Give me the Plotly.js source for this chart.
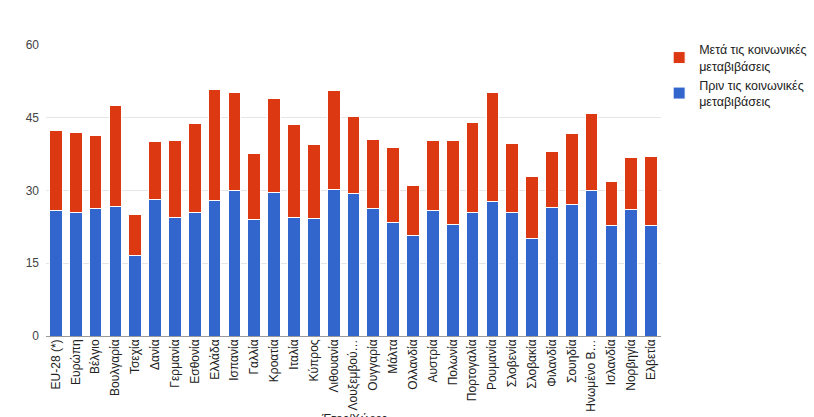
<!DOCTYPE html>
<html>
<head>
<meta charset="utf-8">
<script src="https://cdn.plot.ly/plotly-3.0.1.min.js"></script>
<style>
  body { margin: 0; background: #fff; }
  #chart { width: 814px; height: 417px; }
</style>
</head>
<body>
<div id="chart"></div>
<script>
// countries (full names) and the shortened labels the chart shows
var countries = ['EU-28 (*)', 'Ευρώπη', 'Βέλγιο', 'Βουλγαρία', 'Τσεχία', 'Δανία', 'Γερμανία', 'Εσθονία',
    'Ελλάδα', 'Ισπανία', 'Γαλλία', 'Κροατία', 'Ιταλία', 'Κύπρος', 'Λιθουανία', 'Λουξεμβούργο',
    'Ουγγαρία', 'Μάλτα', 'Ολλανδία', 'Αυστρία', 'Πολωνία', 'Πορτογαλία', 'Ρουμανία', 'Σλοβενία',
    'Σλοβακία', 'Φιλανδία', 'Σουηδία', 'Ηνωμένο Βασίλειο', 'Ισλανδία', 'Νορβηγία', 'Ελβετία'];
var tickLabels = ['EU-28 (*)', 'Ευρώπη', 'Βέλγιο', 'Βουλγαρία', 'Τσεχία', 'Δανία', 'Γερμανία', 'Εσθονία',
    'Ελλάδα', 'Ισπανία', 'Γαλλία', 'Κροατία', 'Ιταλία', 'Κύπρος', 'Λιθουανία', 'Λουξεμβού…',
    'Ουγγαρία', 'Μάλτα', 'Ολλανδία', 'Αυστρία', 'Πολωνία', 'Πορτογαλία', 'Ρουμανία', 'Σλοβενία',
    'Σλοβακία', 'Φιλανδία', 'Σουηδία', 'Ηνωμένο Β…', 'Ισλανδία', 'Νορβηγία', 'Ελβετία'];

// blue part (bottom of each bar)
var before = [25.8, 25.4, 26.2, 26.7, 16.5, 28.1, 24.4, 25.4, 27.9, 30.0, 24.1, 29.6, 24.5, 24.2, 30.3, 29.3,
    26.2, 23.4, 20.8, 25.8, 23.0, 25.5, 27.8, 25.4, 20.1, 26.5, 27.1, 30.1, 22.7, 26.0, 22.7];
// red part stacked on top
var after = [16.6, 16.5, 15.1, 20.8, 8.6, 12.1, 15.9, 18.5, 23.0, 20.2, 13.6, 19.4, 19.1, 15.2, 20.4, 15.9,
    14.3, 15.5, 10.3, 14.5, 17.3, 18.6, 22.4, 14.2, 12.7, 11.6, 14.7, 15.7, 9.2, 10.8, 14.4];

var yTicks = [0, 15, 30, 45, 60];

var blueBars = {
    x: countries,
    y: before,
    type: 'bar',
    name: 'Πριν τις κοινωνικές<br>μεταβιβάσεις',
    marker: {color: '#3366cc', line: {color: '#ffffff', width: 1}}
};

var redBars = {
    x: countries,
    y: after,
    type: 'bar',
    name: 'Μετά τις κοινωνικές<br>μεταβιβάσεις',
    marker: {color: '#dc3912', line: {color: '#ffffff', width: 1}}
};

var layout = {
    width: 814,
    height: 417,
    barmode: 'stack',
    bargap: 0.36,
    // keep the plot area fixed, the legend must not push it
    margin: {l: 46, r: 153, t: 45, b: 81, autoexpand: false},
    paper_bgcolor: '#ffffff',
    plot_bgcolor: '#ffffff',
    font: {family: 'Arial, "Liberation Sans", sans-serif', size: 12, color: '#444'},
    showlegend: true,
    legend: {
        x: 0.997, y: 1.035, xanchor: 'left', yanchor: 'top',
        traceorder: 'reversed',
        font: {size: 12.5, color: '#222'},
        tracegroupgap: 5
    },
    xaxis: {
        tickvals: countries,
        ticktext: tickLabels,
        tickangle: -90,
        tickfont: {size: 12, color: '#222'},
        showgrid: false,
        showline: false,
        ticks: ''
    },
    yaxis: {
        range: [0, 60],
        tickvals: yTicks,
        tickfont: {size: 12, color: '#444'},
        gridcolor: '#e6e6e6',
        zeroline: true,
        zerolinecolor: '#999999',
        zerolinewidth: 1,
        ticklabelstandoff: 6
    },
    // axis title sits low, mostly cut off by the bottom edge (as in the original)
    annotations: [{
        text: 'Έτος/Χώρες',
        xref: 'paper', yref: 'paper',
        x: 0.5, y: -0.255,
        xanchor: 'center', yanchor: 'top',
        showarrow: false,
        font: {size: 12, color: '#222'}
    }]
};

Plotly.newPlot('chart', [blueBars, redBars], layout, {displayModeBar: false});
</script>
</body>
</html>
